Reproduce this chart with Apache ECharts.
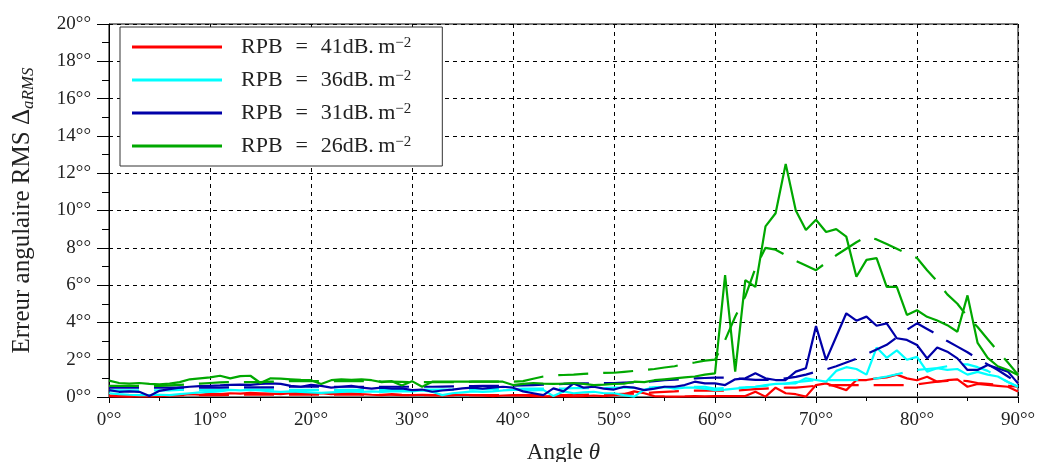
<!DOCTYPE html>
<html><head><meta charset="utf-8">
<script src="https://cdn.jsdelivr.net/npm/echarts@6/dist/echarts.min.js"></script>
<style>html,body{margin:0;padding:0;background:#fff}#c{width:1039px;height:462px}</style>
</head><body><div id="c"></div>
<script>
const angles = [0,1,2,3,4,5,6,7,8,9,10,11,12,13,14,15,16,17,18,19,20,21,22,23,24,25,26,27,28,29,30,31,32,33,34,35,36,37,38,39,40,41,42,43,44,45,46,47,48,49,50,51,52,53,54,55,56,57,58,59,60,61,62,63,64,65,66,67,68,69,70,71,72,73,74,75,76,77,78,79,80,81,82,83,84,85,86,87,88,89,90];
const xTicks = [0,10,20,30,40,50,60,70,80,90];
const yTicks = [0,2,4,6,8,10,12,14,16,18,20];
const legendNames = ['RPB\u2002\u200A=\u2002\u200A41dB.\u2009m', 'RPB\u2002\u200A=\u2002\u200A36dB.\u2009m', 'RPB\u2002\u200A=\u2002\u200A31dB.\u2009m', 'RPB\u2002\u200A=\u2002\u200A26dB.\u2009m'];

// RPB = 41 dB.m^-2 (red)
const red41 = [0.05,0.03,0.02,0.05,0.03,0.05,0.08,0.1,0.15,0.12,0.18,0.15,0.2,0.18,0.22,0.2,0.18,0.15,0.2,0.22,0.18,0.2,0.15,0.18,0.2,0.15,0.12,0.1,0.15,0.12,0.1,0.12,0.1,0.08,0.1,0.12,0.1,0.08,0.05,0.08,0.1,0.08,0.05,0.03,0.05,0.05,0.03,0.05,0.08,0.05,0.1,0.15,0.3,0.2,0.05,0.03,0.02,0.03,0.05,0.03,0.05,0.05,0.05,0.05,0.28,0.02,0.5,0.2,0.15,0.02,0.64,0.73,0.55,0.37,0.91,0.91,1.0,1.05,1.2,1.0,0.9,1.09,0.82,0.9,0.95,0.55,0.7,0.65,0.6,0.55,0.3];
const red41d = [0.08,0.08,0.08,0.08,0.08,0.08,0.08,0.1,0.1,0.1,0.1,0.1,0.12,0.12,0.12,0.12,0.12,0.12,0.12,0.12,0.12,0.12,0.12,0.12,0.12,0.12,0.12,0.12,0.12,0.1,0.1,0.1,0.1,0.1,0.1,0.1,0.1,0.1,0.1,0.1,0.1,0.1,0.1,0.1,0.1,0.1,0.12,0.12,0.14,0.14,0.15,0.17,0.18,0.2,0.25,0.28,0.3,0.33,0.34,0.34,0.34,0.34,0.34,0.38,0.42,0.45,0.48,0.5,0.5,0.55,0.6,0.62,0.64,0.64,0.64,0.64,0.64,0.64,0.64,0.64,0.68,0.75,0.82,0.86,0.9,0.85,0.75,0.7,0.65,0.6,0.55];
// RPB = 36 dB.m^-2 (cyan)
const cyan36 = [0.2,0.15,0.12,0.1,0.1,0.12,0.1,0.15,0.2,0.25,0.28,0.3,0.38,0.35,0.38,0.35,0.3,0.28,0.3,0.28,0.25,0.22,0.25,0.28,0.3,0.28,0.3,0.28,0.3,0.32,0.3,0.35,0.28,0.1,0.2,0.25,0.3,0.28,0.3,0.35,0.38,0.38,0.35,0.38,0.05,0.3,0.2,0.25,0.28,0.2,0.2,0.1,0.02,0.4,0.5,0.55,0.45,0.5,0.5,0.45,0.37,0.4,0.45,0.5,0.55,0.64,0.7,0.72,0.73,1.0,0.91,0.82,1.4,1.6,1.5,1.2,2.65,2.1,2.5,2.0,2.15,1.36,1.54,1.45,1.5,1.2,1.35,1.2,1.1,0.8,0.55];
const cyan36d = [0.35,0.35,0.35,0.35,0.35,0.35,0.35,0.38,0.38,0.38,0.38,0.38,0.4,0.4,0.4,0.4,0.4,0.4,0.38,0.38,0.38,0.38,0.38,0.38,0.38,0.38,0.38,0.38,0.38,0.38,0.4,0.4,0.4,0.4,0.4,0.4,0.42,0.42,0.42,0.42,0.42,0.45,0.45,0.45,0.45,0.45,0.48,0.48,0.48,0.48,0.5,0.5,0.5,0.5,0.52,0.52,0.52,0.55,0.55,0.55,0.45,0.48,0.5,0.52,0.55,0.6,0.65,0.72,0.8,0.85,0.9,0.9,0.9,0.91,0.92,0.95,1.0,1.1,1.22,1.34,1.45,1.5,1.55,1.65,1.75,1.75,1.6,1.4,1.1,0.8,0.55];
// RPB = 31 dB.m^-2 (dark blue)
const blue31 = [0.37,0.28,0.3,0.28,0.05,0.33,0.42,0.5,0.55,0.58,0.6,0.62,0.65,0.66,0.65,0.7,0.73,0.7,0.6,0.55,0.65,0.6,0.5,0.55,0.6,0.5,0.45,0.5,0.45,0.46,0.37,0.4,0.28,0.35,0.4,0.46,0.5,0.45,0.5,0.55,0.5,0.3,0.2,0.1,0.46,0.3,0.73,0.5,0.55,0.45,0.4,0.55,0.5,0.37,0.45,0.55,0.55,0.64,0.82,0.73,0.73,0.64,0.95,1.0,1.27,1.0,0.91,0.91,1.36,1.54,3.8,1.98,3.23,4.49,4.09,4.31,3.82,3.95,3.15,3.06,2.79,2.07,2.66,2.43,2.07,1.45,1.45,1.72,1.54,1.36,0.73];
const blue31d = [0.5,0.5,0.5,0.5,0.5,0.5,0.5,0.5,0.5,0.5,0.5,0.5,0.52,0.52,0.52,0.52,0.52,0.52,0.55,0.55,0.55,0.55,0.55,0.55,0.55,0.55,0.55,0.55,0.55,0.55,0.55,0.55,0.55,0.56,0.57,0.58,0.58,0.6,0.6,0.6,0.6,0.62,0.64,0.66,0.68,0.7,0.72,0.73,0.74,0.75,0.75,0.77,0.78,0.8,0.85,0.9,0.93,0.96,1.0,1.02,1.04,1.04,1.0,0.96,0.92,0.92,0.92,1.0,1.08,1.2,1.35,1.48,1.65,1.85,2.05,2.3,2.55,2.8,3.2,3.6,3.95,3.65,3.35,3.0,2.7,2.4,2.05,1.75,1.45,1.1,0.73];
// RPB = 26 dB.m^-2 (green)
const green26 = [0.88,0.75,0.72,0.75,0.7,0.68,0.72,0.8,0.95,1.0,1.05,1.14,1.0,1.12,1.14,0.75,1.0,0.98,0.95,0.92,0.9,0.7,0.9,0.95,0.92,0.95,0.9,0.8,0.85,0.62,0.85,0.55,0.82,0.82,0.82,0.82,0.82,0.82,0.82,0.82,0.64,0.7,0.75,0.72,0.7,0.72,0.75,0.7,0.64,0.66,0.7,0.72,0.82,0.8,0.9,0.95,1.0,1.05,1.1,1.2,1.27,6.54,1.36,6.27,5.9,9.15,9.85,12.5,10.0,8.95,9.5,8.85,9.0,8.6,6.45,7.35,7.45,5.9,5.9,4.4,4.65,4.3,4.1,3.85,3.5,5.45,2.9,2.1,1.65,1.45,1.18];
const green26d = [0.6,0.6,0.6,0.6,0.6,0.6,0.62,0.65,0.68,0.72,0.75,0.78,0.8,0.8,0.8,0.8,0.82,0.84,0.85,0.85,0.85,0.85,0.85,0.85,0.85,0.85,0.84,0.83,0.82,0.81,0.8,0.8,0.8,0.8,0.8,0.8,0.82,0.82,0.82,0.82,0.82,0.85,0.98,1.1,1.16,1.18,1.2,1.24,1.27,1.29,1.3,1.35,1.4,1.45,1.5,1.58,1.65,1.78,1.85,1.95,2.0,3.05,4.3,5.4,6.9,8.0,7.9,7.6,7.3,7.05,6.8,7.2,7.6,7.95,8.3,8.6,8.45,8.2,7.95,7.7,7.45,6.8,6.2,5.5,5.0,4.3,3.75,3.1,2.45,1.85,1.2];

const FONT = 'Liberation Serif';
function pairs(vals) { return angles.map((a, i) => [a, vals[i]]); }

const sets = [
  {name: legendNames[0], color: '#ff0000', solid: red41, dashed: red41d},
  {name: legendNames[1], color: '#00ffff', solid: cyan36, dashed: cyan36d},
  {name: legendNames[2], color: '#0000a8', solid: blue31, dashed: blue31d},
  {name: legendNames[3], color: '#00a800', solid: green26, dashed: green26d}
];
const series = [];
sets.forEach((s, k) => {
  series.push({
    name: s.name + ' (b)', type: 'line', data: pairs(s.dashed), showSymbol: false, symbol: 'none',
    lineStyle: {color: s.color, width: 2.2, type: [30, 15]}, itemStyle: {color: s.color},
    z: 2 + k, animation: false, silent: true
  });
  series.push({
    name: s.name, type: 'line', data: pairs(s.solid), showSymbol: false, symbol: 'none',
    lineStyle: {color: s.color, width: 2.2}, itemStyle: {color: s.color},
    z: 2 + k, animation: false, silent: true
  });
});

const chart = echarts.init(document.getElementById('c'), null, {renderer: 'canvas'});
chart.setOption({
  animation: false,
  backgroundColor: '#fff',
  grid: {left: 109, right: 21, top: 24, bottom: 65, show: true, borderColor: '#000', borderWidth: 1,
         backgroundColor: 'transparent', containLabel: false, outerBoundsMode: 'none'},
  legend: {
    data: legendNames, orient: 'vertical', left: 120, top: 27,
    icon: 'rect', itemWidth: 90, itemHeight: 3, itemGap: 11,
    padding: [9, 31, 9, 12], borderColor: '#333', borderWidth: 1, backgroundColor: '#fff',
    borderRadius: 0,
    formatter: n => '{t|' + n + '}{s|\u22122}',
    textStyle: {
      fontFamily: FONT, color: '#222', padding: [0, 0, 0, 14],
      rich: {
        t: {fontFamily: FONT, fontSize: 22, lineHeight: 22, color: '#222'},
        s: {fontFamily: FONT, fontSize: 15, lineHeight: 22, verticalAlign: 'top', color: '#222'}
      }
    }
  },
  xAxis: {
    type: 'value', min: 0, max: 90, interval: 10,
    name: '{a|Angle }{b|θ}', nameLocation: 'middle', nameGap: 44,
    nameTextStyle: {rich: {a: {fontFamily: FONT, fontSize: 23, color: '#222'}, b: {fontFamily: FONT, fontSize: 23, fontStyle: 'italic', color: '#222'}}},
    axisLine: {onZero: false, lineStyle: {color: '#000', width: 1}},
    axisTick: {show: true, length: 6, inside: false, lineStyle: {color: '#000'}},
    minorTick: {show: true, splitNumber: 2, length: 4, lineStyle: {color: '#000'}},
    axisLabel: {margin: 14, fontFamily: FONT, fontSize: 19, color: '#222', formatter: v => v + '°°'},
    splitLine: {show: true, lineStyle: {color: '#000', type: [4, 4], width: 1}}
  },
  yAxis: {
    type: 'value', min: 0, max: 20, interval: 2,
    name: '{a|Erreur angulaire RMS Δ}{b|aRMS}', nameLocation: 'middle', nameGap: 72, nameRotate: 90,
    nameTextStyle: {rich: {
      a: {fontFamily: FONT, fontSize: 25, lineHeight: 30, color: '#222'},
      b: {fontFamily: FONT, fontSize: 17, lineHeight: 30, verticalAlign: 'bottom', fontStyle: 'italic', color: '#222'}
    }},
    axisLine: {onZero: false, lineStyle: {color: '#000', width: 1}},
    axisTick: {show: true, length: 12, lineStyle: {color: '#000'}},
    minorTick: {show: true, splitNumber: 2, length: 7, lineStyle: {color: '#000'}},
    axisLabel: {margin: 18, fontFamily: FONT, fontSize: 19, color: '#222', formatter: v => v + '°°'},
    splitLine: {show: true, lineStyle: {color: '#000', type: [4, 4], width: 1}}
  },
  series: series
});
</script>
</body></html>
